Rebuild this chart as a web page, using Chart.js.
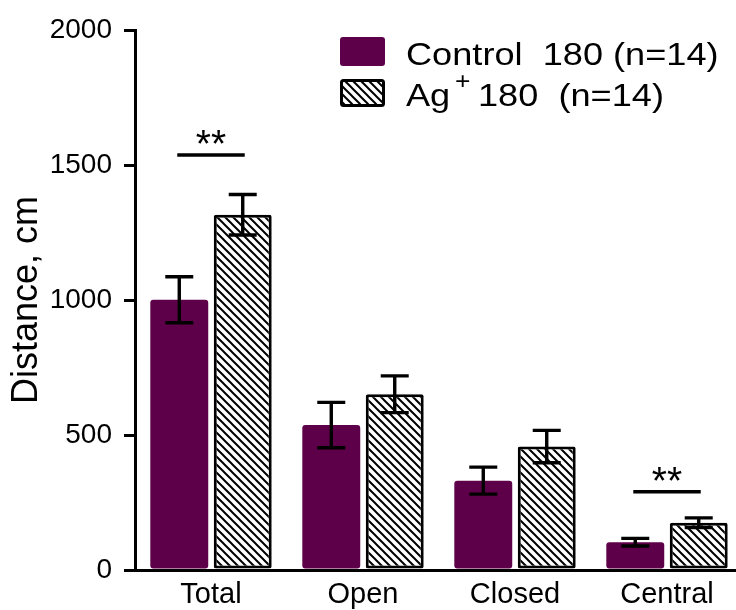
<!DOCTYPE html>
<html>
<head>
<meta charset="utf-8">
<script src="https://cdn.jsdelivr.net/npm/chart.js@4/dist/chart.umd.min.js"></script>
<style>
  html, body { margin: 0; padding: 0; background: #fff; overflow: hidden; width: 736px; height: 610px; }
  canvas { display: block; }
</style>
</head>
<body>
<canvas id="c" width="745" height="610"></canvas>
<script>
// ---- data ----
const categories = ['Total', 'Open', 'Closed', 'Central'];
const controlMean = [1001, 537, 331, 103];
const controlSem  = [85, 84, 50, 14];
const agMean      = [1316, 651, 457, 175];
const agSem       = [75, 68, 60, 18];
const sigLevel    = [1537, null, null, 290];
const sigText     = ['**', null, null, '**'];
const yTicks      = [0, 500, 1000, 1500, 2000];
const seriesNames = ['Control  180 (n=14)', 'Ag+ 180  (n=14)'];

const FONT = '"Liberation Sans", Arial, Helvetica, sans-serif';
const PURPLE = '#5e0049';

// hatch pattern
function makeHatch() {
  const t = document.createElement('canvas');
  t.width = 8; t.height = 8;
  const g = t.getContext('2d');
  g.fillStyle = '#fff'; g.fillRect(0, 0, 8, 8);
  g.strokeStyle = '#000'; g.lineWidth = 2;
  g.beginPath();
  for (const k of [-8, 0, 8]) { g.moveTo(k - 1, -1); g.lineTo(k + 9, 9); }
  g.stroke();
  return g.createPattern(t, 'repeat');
}
const hatch = makeHatch();

function stretchedText(ctx, txt, x, y, sx) {
  ctx.save();
  ctx.translate(x, y);
  ctx.scale(sx, 1);
  ctx.fillText(txt, 0, 0);
  ctx.restore();
}

const overlay = {
  id: 'overlay',
  afterDatasetsDraw(chart) {
    const ctx = chart.ctx;
    const y = chart.scales.y;
    const sets = [[controlMean, controlSem], [agMean, agSem]];
    ctx.save();
    ctx.strokeStyle = '#000';
    ctx.lineWidth = 3.4;
    ctx.lineCap = 'butt';
    sets.forEach(([m, s], di) => {
      const meta = chart.getDatasetMeta(di);
      meta.data.forEach((bar, i) => {
        const x = bar.x;
        const yt = y.getPixelForValue(m[i] + s[i]);
        const yb = y.getPixelForValue(m[i] - s[i]);
        const hw = 14;
        ctx.beginPath();
        ctx.moveTo(x, yt); ctx.lineTo(x, yb);
        ctx.moveTo(x - hw, yt); ctx.lineTo(x + hw, yt);
        ctx.moveTo(x - hw, yb); ctx.lineTo(x + hw, yb);
        ctx.stroke();
      });
    });
    // significance
    const m0 = chart.getDatasetMeta(0), m1 = chart.getDatasetMeta(1);
    sigLevel.forEach((lv, i) => {
      if (lv == null) return;
      const yy = y.getPixelForValue(lv);
      const x0 = m0.data[i].x - 2, x1 = m1.data[i].x + 2;
      ctx.beginPath();
      ctx.moveTo(x0, yy); ctx.lineTo(x1, yy);
      ctx.stroke();
      ctx.fillStyle = '#000';
      ctx.font = '39px ' + FONT;
      ctx.textAlign = 'center';
      ctx.textBaseline = 'alphabetic';
      ctx.fillText(sigText[i], (x0 + x1) / 2, yy + 2);
    });
    // legend
    ctx.fillStyle = PURPLE;
    ctx.beginPath();
    ctx.roundRect(340, 37, 45, 29, 3);
    ctx.fill();
    ctx.fillStyle = hatch;
    ctx.fillRect(341, 80, 43, 25);
    ctx.strokeStyle = '#000';
    ctx.lineWidth = 3;
    ctx.beginPath();
    ctx.roundRect(341.5, 80.5, 42, 25, 2);
    ctx.stroke();
    ctx.fillStyle = '#000';
    ctx.textBaseline = 'alphabetic';
    ctx.textAlign = 'left';
    ctx.font = '32px ' + FONT;
    stretchedText(ctx, seriesNames[0], 406, 65, 1.13);
    stretchedText(ctx, 'Ag', 406, 105.5, 1.13);
    ctx.font = '24px ' + FONT;
    stretchedText(ctx, '+', 455, 88.5, 1.1);
    ctx.font = '32px ' + FONT;
    stretchedText(ctx, '180  (n=14)', 478, 105.5, 1.13);
    ctx.restore();
  }
};

new Chart(document.getElementById('c'), {
  type: 'bar',
  data: {
    labels: categories,
    datasets: [
      {
        label: seriesNames[0],
        data: controlMean,
        backgroundColor: PURPLE,
        borderWidth: 0,
        borderRadius: 3,
        borderSkipped: false,
        categoryPercentage: 0.835,
        barPercentage: 0.913
      },
      {
        label: seriesNames[1],
        data: agMean,
        backgroundColor: hatch,
        borderColor: '#000',
        borderWidth: 3,
        borderRadius: 2,
        borderSkipped: false,
        categoryPercentage: 0.835,
        barPercentage: 0.913
      }
    ]
  },
  options: {
    responsive: false,
    animation: false,
    devicePixelRatio: 1,
    layout: { padding: { top: 30, right: 2, left: 0, bottom: 0 } },
    plugins: { legend: { display: false }, tooltip: { enabled: false } },
    scales: {
      x: {
        z: 1,
        afterFit(scale) { scale.height = 40; },
        grid: { display: false, drawTicks: false },
        border: { display: true, color: '#000', width: 3 },
        ticks: { color: '#000', font: { family: FONT, size: 29 }, padding: 8 }
      },
      y: {
        z: 1,
        min: 0, max: 2000,
        afterBuildTicks(scale) { scale.ticks = yTicks.map(v => ({ value: v })); },
        afterFit(scale) { scale.width = 135; },
        grid: { display: true, drawOnChartArea: false, drawTicks: true, tickLength: 11, color: '#000', lineWidth: 3 },
        border: { display: true, color: '#000', width: 3 },
        ticks: { color: '#000', font: { family: FONT, size: 28 }, padding: 12, callback: v => String(v) },
        title: { display: true, text: 'Distance, cm', color: '#000', font: { family: FONT, size: 36 }, padding: { top: 5, bottom: 0 } }
      }
    }
  },
  plugins: [overlay]
});
</script>
</body>
</html>
